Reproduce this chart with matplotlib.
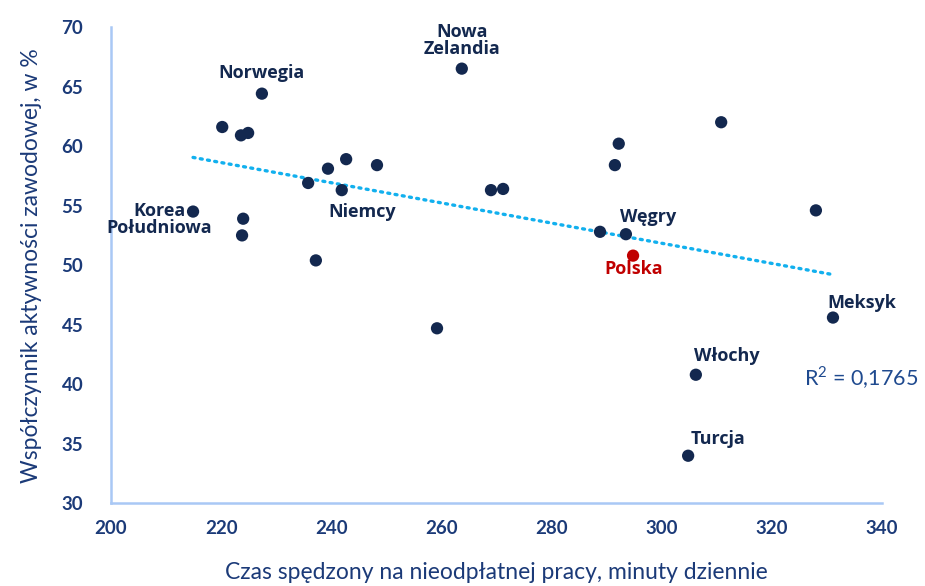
import numpy as np
import matplotlib
matplotlib.use("Agg")
import matplotlib.pyplot as plt

plt.rcParams['font.family'] = ['Lato', 'DejaVu Sans']
plt.rcParams['mathtext.fontset'] = 'custom'
plt.rcParams['mathtext.rm'] = 'Lato'

# Czas nieodpłatnej pracy (min/dzień) vs współczynnik aktywności zawodowej (%)
minutes = [214.9, 220.2, 223.6, 224.9, 227.4, 224.0, 223.8, 235.8, 239.4, 242.7,
           241.9, 248.3, 237.2, 263.7, 259.2, 269.0, 271.2, 292.2, 291.5, 288.8,
           293.5, 294.8, 310.8, 328.0, 331.1, 306.2, 304.8]
activity = [54.5, 61.6, 60.9, 61.1, 64.4, 53.9, 52.5, 56.9, 58.1, 58.9,
            56.3, 58.4, 50.4, 66.5, 44.7, 56.3, 56.4, 60.2, 58.4, 52.8,
            52.6, 50.8, 62.0, 54.6, 45.6, 40.8, 34.0]
names = ["Korea\nPołudniowa", "", "", "", "Norwegia", "", "", "", "", "",
         "Niemcy", "", "", "Nowa\nZelandia", "", "", "", "", "", "",
         "Węgry", "Polska", "", "", "Meksyk", "Włochy", "Turcja"]

# label offsets in pixels (dx, dy)
offsets = {
    "Korea\nPołudniowa": (-34, -8),
    "Norwegia": (0, 21),
    "Niemcy": (20, -22),
    "Nowa\nZelandia": (0, 28),
    "Węgry": (22, 17),
    "Polska": (1, -13),
    "Meksyk": (29, 15),
    "Włochy": (31, 19),
    "Turcja": (30, 17),
}

navy = "#13284f"
red = "#c00000"
tick_col = "#1b3a78"

fig, ax = plt.subplots(figsize=(9.25, 5.86), dpi=100)
fig.subplots_adjust(left=0.12, right=0.9535, bottom=0.141, top=0.954)

colors = [red if n == "Polska" else navy for n in names]
ax.scatter(minutes, activity, s=78, c=colors, zorder=3, linewidths=0)

# linia trendu
x = np.array(minutes)
y = np.array(activity)
a, b = np.polyfit(x, y, 1)
xs = np.array([x.min(), x.max()])
ax.plot(xs, a * xs + b, color="#12b0ee", lw=2.4, linestyle=(0, (0.6, 1.6)),
        dash_capstyle="round", zorder=2)

for xi, yi, n in zip(minutes, activity, names):
    if not n:
        continue
    dx, dy = offsets[n]
    ax.annotate(n, (xi, yi), xytext=(dx * 0.72, dy * 0.72), textcoords="offset points",
                ha="center", va="center", fontsize=13, fontweight="bold",
                family=["Open Sans", "DejaVu Sans"],
                color=red if n == "Polska" else navy, linespacing=0.95)

ax.text(0.973, 0.263, "R$^2$ = 0,1765", transform=ax.transAxes, ha="center", va="center",
        fontsize=15.5, color="#1f4a8f", clip_on=False)

ax.set_xlim(200, 340)
ax.set_ylim(30, 70)
ax.set_xticks(range(200, 341, 20))
ax.set_yticks(range(30, 71, 5))
ax.tick_params(length=0, labelsize=13.5, colors=tick_col)
ax.tick_params(axis="x", pad=12)
ax.tick_params(axis="y", pad=20)
for lab in ax.get_xticklabels() + ax.get_yticklabels():
    lab.set_fontweight("bold")

for s in ["top", "right"]:
    ax.spines[s].set_visible(False)
for s in ["left", "bottom"]:
    ax.spines[s].set_color("#a9c8f5")
    ax.spines[s].set_linewidth(1.8)

ax.set_xlabel("Czas spędzony na nieodpłatnej pracy, minuty dziennie", fontsize=16.5,
              color=tick_col, labelpad=18)
ax.set_ylabel("Współczynnik aktywności zawodowej, w %", fontsize=16.5,
              color=tick_col, labelpad=14)

fig.savefig("out.png", dpi=100)
